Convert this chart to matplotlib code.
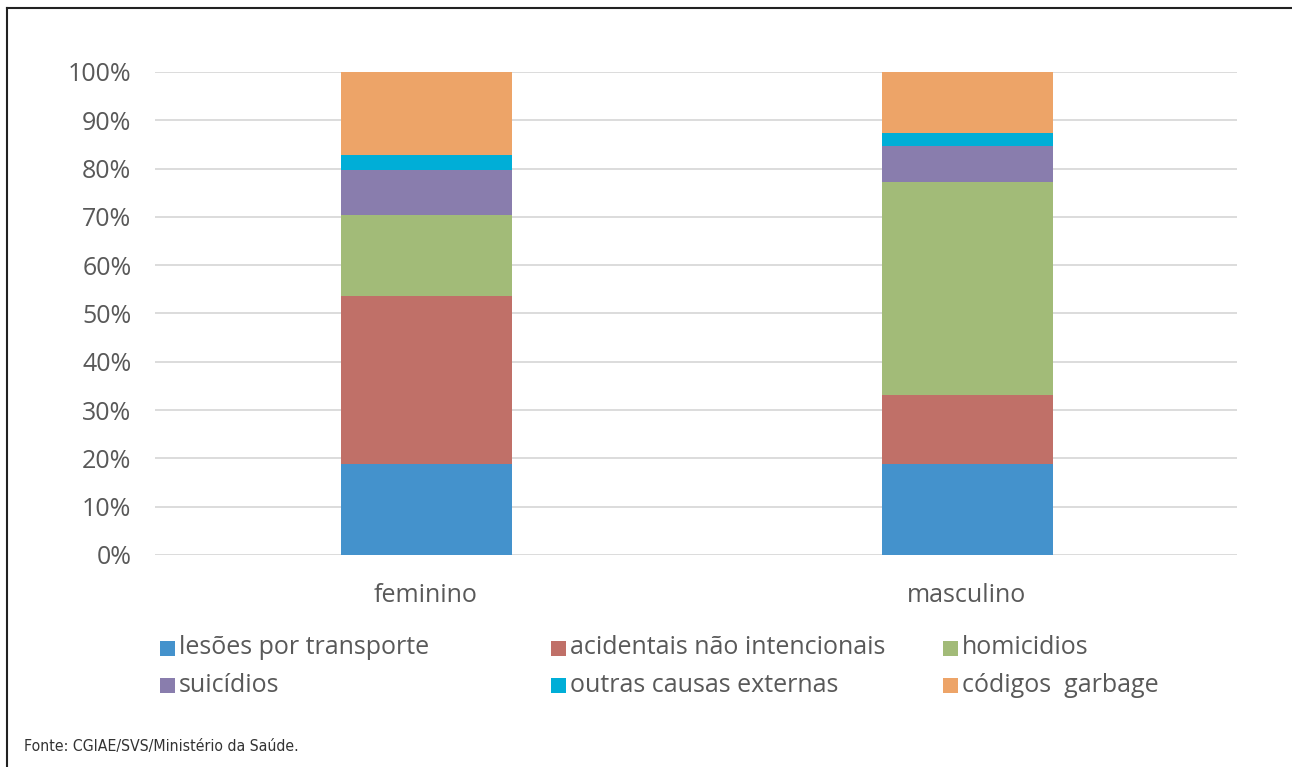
import matplotlib
matplotlib.use("Agg")
import matplotlib.pyplot as plt
from matplotlib.lines import Line2D
from matplotlib.patches import Rectangle
import numpy as np

plt.rcParams['font.family'] = ['Open Sans', 'DejaVu Sans']

categories = ["feminino", "masculino"]
series_names = ["lesões por transporte", "acidentais não intencionais", "homicidios",
                "suicídios", "outras causas externas", "códigos  garbage"]
colors = ["#4492CC", "#C07068", "#A2BB78", "#897DAD", "#00AED7", "#EDA468"]
lesoes = [18.9, 18.9]
acidentais = [34.7, 14.2]
homicidios = [16.8, 44.1]
suicidios = [9.3, 7.5]
outras = [3.1, 2.7]
garbage = [17.2, 12.6]
yticks = [0, 10, 20, 30, 40, 50, 60, 70, 80, 90, 100]
source = "Fonte: CGIAE/SVS/Ministério da Saúde."

W, H = 1292, 767
fig = plt.figure(figsize=(W/100, H/100), dpi=100)
ax = fig.add_axes([155/W, 1-555/H, (1237-155)/W, (555-72)/H])

data = [lesoes, acidentais, homicidios, suicidios, outras, garbage]
x = np.arange(len(categories))
bottom = np.zeros(len(categories))
for name, vals, c in zip(series_names, data, colors):
    v = np.array(vals) / 100.0
    ax.bar(x + 0.0025, v, 0.316, bottom=bottom, color=c, label=name, zorder=3)
    bottom += v

ax.set_xlim(-0.5, 1.5)
ax.set_ylim(0, 1)
ax.set_yticks([t/100 for t in yticks])
ax.set_yticklabels([f"{t}%" for t in yticks])
ax.set_xticks(x)
ax.set_xticklabels(categories)
ax.grid(axis='y', color='#D9D9D9', linewidth=1.3, zorder=0)
for s in ax.spines.values():
    s.set_visible(False)
ax.tick_params(axis='both', length=0, labelsize=18, colors='#595959')
ax.tick_params(axis='y', pad=17)
ax.tick_params(axis='x', pad=20)

# legend laid out like the original (3 equal-width columns, row-wise)
col_x = [160, 551, 943]
row_y = [648, 685]
sq = 15
for i, (name, c) in enumerate(zip(series_names, colors)):
    r, k = divmod(i, 3)
    px, py = col_x[k], row_y[r]
    fig.add_artist(Rectangle((px/W, 1-(py+sq/2)/H), sq/W, sq/H,
                             facecolor=c, edgecolor='none',
                             transform=fig.transFigure))
    fig.text((px+sq+4)/W, 1-py/H, name, fontsize=18, color='#595959',
             va='center', ha='left')

fig.text(24/W, 1-746/H, source, fontsize=11.3, color='#333333',
         family=['DejaVu Sans'], fontstretch='condensed', va='center')

fig.add_artist(Line2D([7/W, 1.0], [1-8/H, 1-8/H], color='#222222', linewidth=1.5,
                      transform=fig.transFigure))
fig.add_artist(Line2D([7/W, 7/W], [0, 1-8/H], color='#222222', linewidth=1.5,
                      transform=fig.transFigure))

fig.savefig("out.png", dpi=100)
